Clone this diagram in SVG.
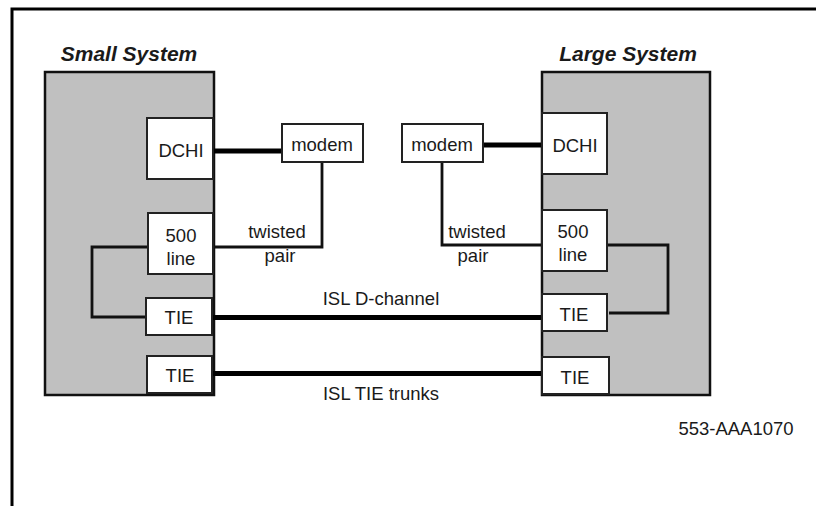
<svg xmlns="http://www.w3.org/2000/svg" width="816" height="506" viewBox="0 0 816 506">
<style>
.sys{fill:#c0c0c0;stroke:#111;stroke-width:2.5}
.box{fill:#fff;stroke:#222;stroke-width:2}
.t{font-family:"Liberation Sans",Arial,sans-serif;font-size:18.5px;fill:#1a1a1a;text-anchor:middle}
.ttl{font-family:"Liberation Sans",Arial,sans-serif;font-size:21px;font-weight:bold;font-style:italic;fill:#1a1a1a;text-anchor:middle}
.thick{fill:none;stroke:#000;stroke-width:5}
.thin{fill:none;stroke:#111;stroke-width:2.8}
</style>
<rect width="816" height="506" fill="#fff"/>
<path d="M12,506 V9 H816" fill="none" stroke="#000" stroke-width="3"/>
<g id="small-system">
<rect class="sys" x="45" y="72" width="169" height="323"/>
<text class="ttl" x="129" y="61">Small System</text>
</g>
<g id="large-system">
<rect class="sys" x="542" y="72" width="168" height="323"/>
<text class="ttl" x="628" y="61">Large System</text>
</g>
<g id="connectors">
<path class="thick" d="M213,151 H282"/>
<path class="thick" d="M483,145 H542"/>
<path class="thin" d="M322,162 V247 H213"/>
<path class="thin" d="M442,162 V245 H542"/>
<path class="thin" d="M148,247 H92 V317 H146"/>
<path class="thin" d="M607,245 H668 V313 H609"/>
<path class="thick" d="M212,317.5 H542"/>
<path class="thick" d="M212,373.5 H542"/>
<text class="t" x="381" y="305">ISL D-channel</text>
<text class="t" x="381" y="400">ISL TIE trunks</text>
<text class="t" x="277" y="238">twisted</text>
<text class="t" x="280" y="262">pair</text>
<text class="t" x="477" y="238">twisted</text>
<text class="t" x="473" y="262">pair</text>
</g>
<g id="dchi-small"><rect class="box" x="147" y="118" width="66" height="61"/><text class="t" x="181" y="157">DCHI</text></g>
<g id="modem-small"><rect class="box" x="282" y="124" width="81" height="38"/><text class="t" x="322" y="151">modem</text></g>
<g id="line500-small"><rect class="box" x="148" y="213" width="65" height="61"/><text class="t" x="181" y="242">500</text><text class="t" x="181" y="265">line</text></g>
<g id="tie1-small"><rect class="box" x="146" y="298" width="66" height="37"/><text class="t" x="179" y="324">TIE</text></g>
<g id="tie2-small"><rect class="box" x="147" y="356" width="65" height="37"/><text class="t" x="180" y="382">TIE</text></g>
<g id="dchi-large"><rect class="box" x="542" y="113" width="65" height="61"/><text class="t" x="575" y="152">DCHI</text></g>
<g id="modem-large"><rect class="box" x="402" y="124" width="81" height="38"/><text class="t" x="442" y="151">modem</text></g>
<g id="line500-large"><rect class="box" x="542" y="210" width="65" height="61"/><text class="t" x="573" y="238">500</text><text class="t" x="573" y="261">line</text></g>
<g id="tie1-large"><rect class="box" x="542" y="294" width="65" height="37"/><text class="t" x="574" y="321">TIE</text></g>
<g id="tie2-large"><rect class="box" x="542" y="357" width="67" height="37"/><text class="t" x="575" y="384">TIE</text></g>
<text class="t" x="736" y="435">553-AAA1070</text>
</svg>
